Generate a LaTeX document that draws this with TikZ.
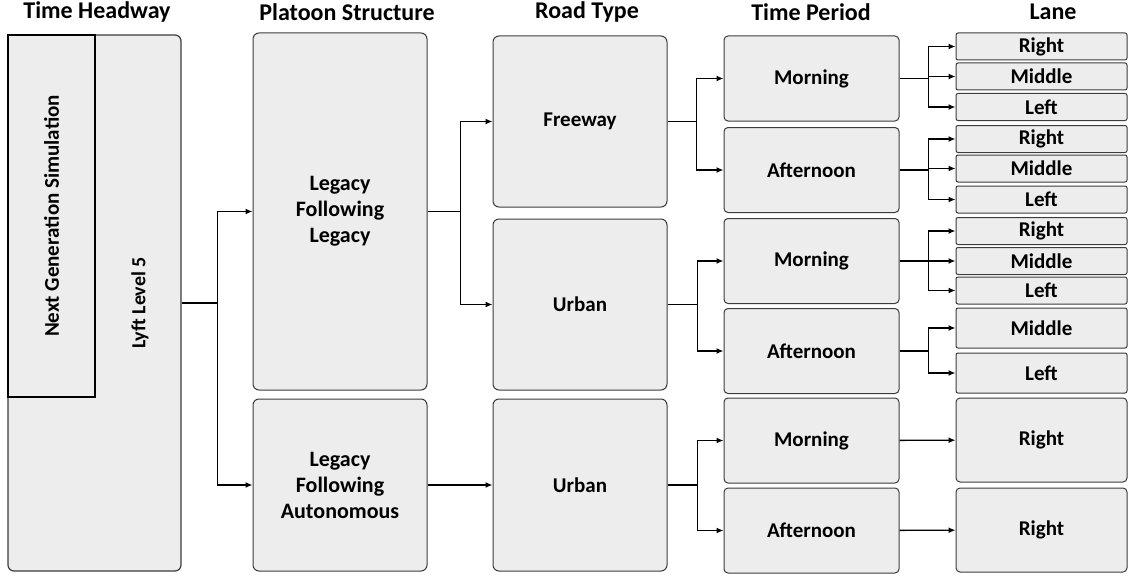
\documentclass[tikz,border=0pt]{standalone}
\usepackage{fontspec}
\setmainfont{Carlito}
\usetikzlibrary{arrows.meta,positioning}
\definecolor{boxgray}{RGB}{237,237,237}
\definecolor{edgegray}{RGB}{60,60,60}
\tikzset{
  box/.style={
    rounded corners=6pt,
    draw=edgegray,
    fill=boxgray,
    line width=1pt,
    align=center,
    inner sep=0pt,
    font=\bfseries\fontsize{21}{26}\selectfont
  },
  period/.style={box, rounded corners=4pt},
  lanebox/.style={box, rounded corners=2pt},
  size/.style 2 args={minimum width=#1pt, minimum height=#2pt},
  heading/.style={
    inner sep=0pt,
    font=\bfseries\fontsize{24}{26}\selectfont
  },
  arrow/.style={
    -{Latex[length=7pt,width=6pt]},
    line width=1.4pt,
    black
  }
}

\begin{document}
\begin{tikzpicture}[x=1pt, y=-1pt]
\useasboundingbox (0,0) rectangle (1128,578);
% column titles
\node[heading] (t1) at (97,12) {Time Headway};
\node[heading] (t2) at (347,12) {Platoon Structure};
\node[heading] (t3) at (587,12) {Road Type};
\node[heading] (t4) at (811,12) {Time Period};
\node[heading] (t5) at (1053,12) {Lane};
% time headway
\node[box, size={173}{536}, line width=1.2pt] (th) at (94.5,303) {};
\node[box, size={362}{87}, rotate=90, rounded corners=0pt, draw=black, line width=1.6pt] (ngs) at (51.5,216) {Next Generation Simulation};
\node[rotate=90, font=\bfseries\fontsize{20}{26}\selectfont] (lyft) at (140,303) {Lyft Level 5};
% platoon structure
\node[box, size={174}{357}, font=\bfseries\fontsize{22}{26}\selectfont] (legleg) at (340,211.5) {Legacy\\Following\\Legacy};
\node[box, size={174}{172}, font=\bfseries\fontsize{22}{26}\selectfont] (legaut) at (340,485) {Legacy\\Following\\Autonomous};
% road type
\node[box, size={174}{171}] (free) at (580,121.5) {Freeway};
\node[box, size={174}{171}] (urb1) at (580,304.5) {Urban};
\node[box, size={174}{172}] (urb2) at (580,485) {Urban};
% time period
\node[period, size={175}{85}] (mor1) at (811.5,78.5) {Morning};
\node[period, size={175}{85}] (aft1) at (811.5,170) {Afternoon};
\node[period, size={175}{85}] (mor2) at (811.5,261) {Morning};
\node[period, size={175}{85}] (aft2) at (811.5,351) {Afternoon};
\node[period, size={175}{85}] (mor3) at (811.5,440.5) {Morning};
\node[period, size={175}{85}] (aft3) at (811.5,530.5) {Afternoon};
% lane
\node[lanebox, size={171}{27}] (r1) at (1041.5,46.5) {Right};
\node[lanebox, size={171}{27}] (d1) at (1041.5,76.5) {Middle};
\node[lanebox, size={171}{27}] (l1) at (1041.5,107) {Left};
\node[lanebox, size={171}{27}] (r2) at (1041.5,139) {Right};
\node[lanebox, size={171}{27}] (d2) at (1041.5,168.5) {Middle};
\node[lanebox, size={171}{27}] (l2) at (1041.5,199.5) {Left};
\node[lanebox, size={171}{27}] (r3) at (1041.5,231) {Right};
\node[lanebox, size={171}{27}] (d3) at (1041.5,261) {Middle};
\node[lanebox, size={171}{27}] (l3) at (1041.5,290.5) {Left};
\node[lanebox, size={171}{40}] (d4) at (1041.5,328) {Middle};
\node[lanebox, size={171}{40}] (l4) at (1041.5,373) {Left};
\node[lanebox, size={171}{84}, rounded corners=4pt] (r5) at (1041.5,440) {Right};
\node[lanebox, size={171}{84}, rounded corners=4pt] (r6) at (1041.5,530) {Right};
% connectors
\draw[arrow] (th.east) -- ++(36,0) |- (legleg.west);
\draw[arrow] (th.east) -- ++(36,0) |- (legaut.west);
\draw[arrow] (legleg.east) -- ++(33,0) |- (free.west);
\draw[arrow] (legleg.east) -- ++(33,0) |- (urb1.west);
\draw[arrow] (legaut) -- (urb2);
\draw[arrow] (free.east) -- ++(29,0) |- (mor1.west);
\draw[arrow] (free.east) -- ++(29,0) |- (aft1.west);
\draw[arrow] (urb1.east) -- ++(30,0) |- (mor2.west);
\draw[arrow] (urb1.east) -- ++(30,0) |- (aft2.west);
\draw[arrow] (urb2.east) -- ++(30,0) |- (mor3.west);
\draw[arrow] (urb2.east) -- ++(30,0) |- (aft3.west);
\draw[arrow] (mor1.east) -- ++(29,0) |- (r1.west);
\draw[arrow] (mor1.east) -- ++(29,0) |- (d1.west);
\draw[arrow] (mor1.east) -- ++(29,0) |- (l1.west);
\draw[arrow] (aft1.east) -- ++(29,0) |- (r2.west);
\draw[arrow] (aft1.east) -- ++(29,0) |- (d2.west);
\draw[arrow] (aft1.east) -- ++(29,0) |- (l2.west);
\draw[arrow] (mor2.east) -- ++(29,0) |- (r3.west);
\draw[arrow] (mor2.east) -- ++(29,0) |- (d3.west);
\draw[arrow] (mor2.east) -- ++(29,0) |- (l3.west);
\draw[arrow] (aft2.east) -- ++(29,0) |- (d4.west);
\draw[arrow] (aft2.east) -- ++(29,0) |- (l4.west);
\draw[arrow] (mor3) -- (r5);
\draw[arrow] (aft3) -- (r6);
\end{tikzpicture}
\end{document}
